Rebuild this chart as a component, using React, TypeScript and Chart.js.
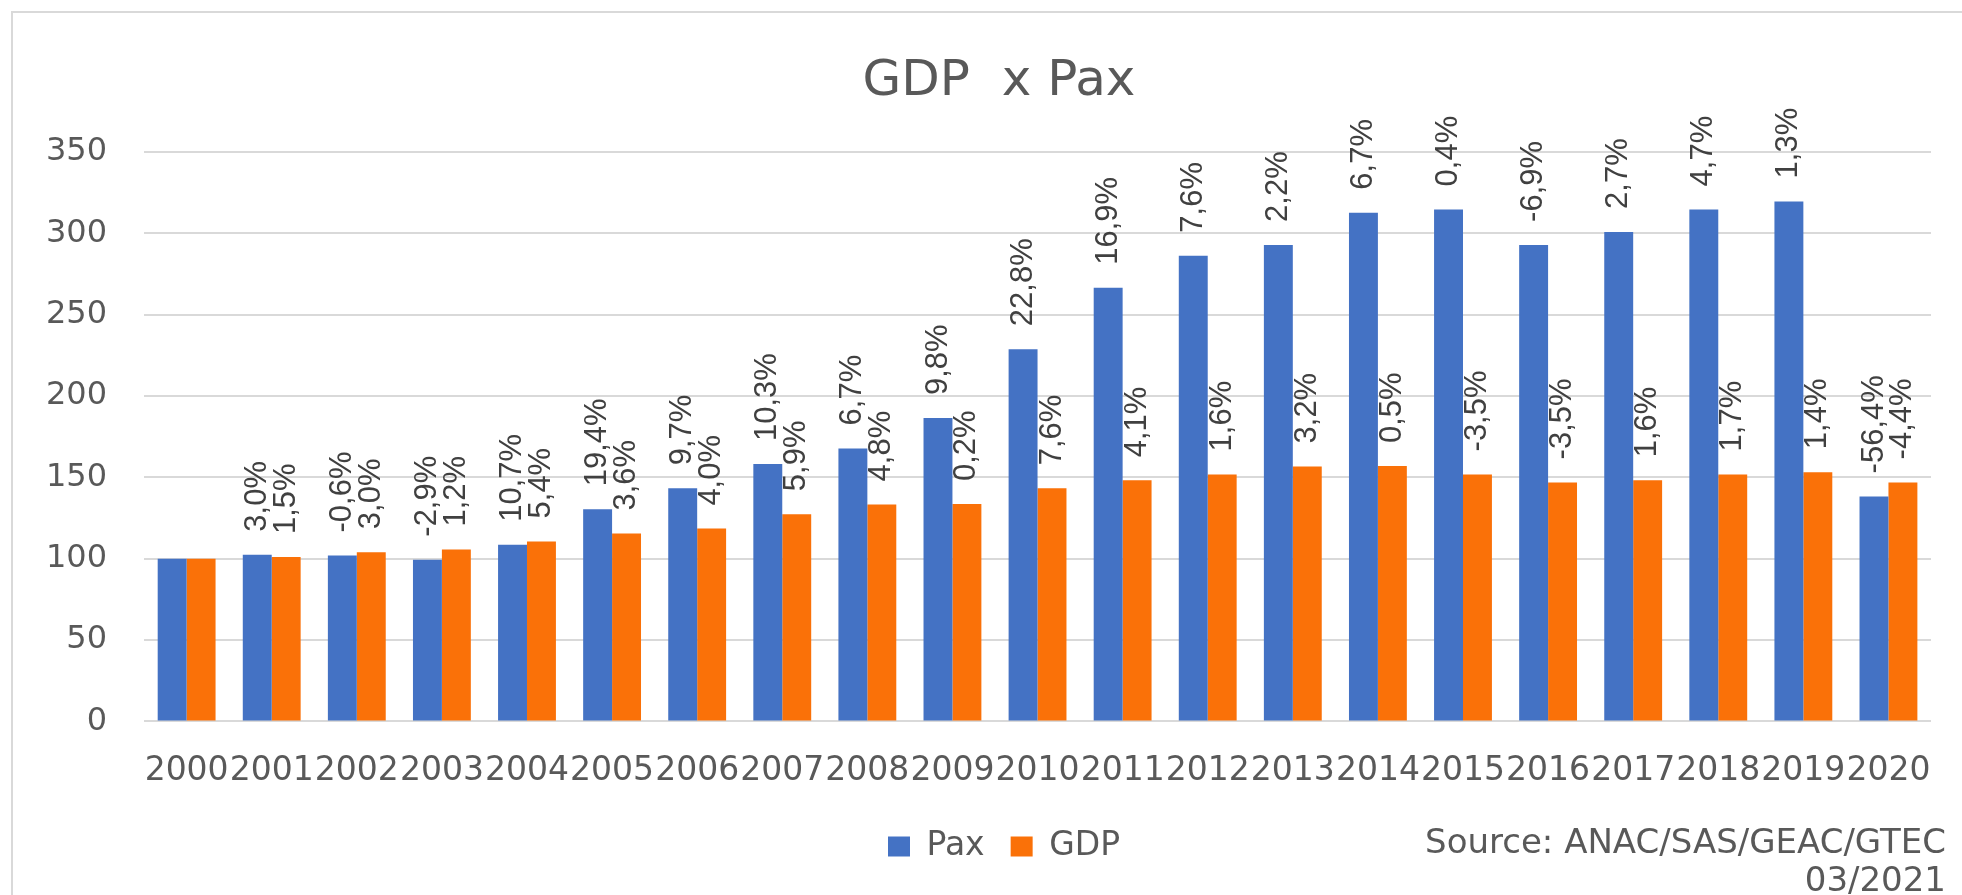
import React, { useEffect, useRef } from "react";
import { Chart, registerables } from "chart.js";

Chart.register(...registerables);

const years = ["2000","2001","2002","2003","2004","2005","2006","2007","2008","2009","2010","2011","2012","2013","2014","2015","2016","2017","2018","2019","2020"];
const paxValues = [100, 102.5, 102, 99.4, 108.6, 130.4, 143.3, 158.2, 167.8, 186.5, 228.8, 266.5, 286.3, 292.9, 312.7, 314.7, 292.9, 300.9, 314.7, 319.6, 138.3];
const gdpValues = [100, 101, 104, 105.6, 110.6, 115.5, 118.5, 127.4, 133.4, 133.6, 143.3, 148.2, 151.8, 156.7, 157, 151.8, 146.9, 148.2, 151.8, 153.2, 146.9];
const paxLabels = ["", "3,0%", "-0,6%", "-2,9%", "10,7%", "19,4%", "9,7%", "10,3%", "6,7%", "9,8%", "22,8%", "16,9%", "7,6%", "2,2%", "6,7%", "0,4%", "-6,9%", "2,7%", "4,7%", "1,3%", "-56,4%"];
const gdpLabels = ["", "1,5%", "3,0%", "1,2%", "5,4%", "3,6%", "4,0%", "5,9%", "4,8%", "0,2%", "7,6%", "4,1%", "1,6%", "3,2%", "0,5%", "-3,5%", "-3,5%", "1,6%", "1,7%", "1,4%", "-4,4%"];
const titleText = "GDP  x Pax";
const sourceLines = ["Source: ANAC/SAS/GEAC/GTEC", "03/2021"];

const labelPlugin = {
  id: "rotLabels",
  afterLayout(chart: any) {
    if (chart.titleBlock) {
      chart.titleBlock.left += 29;
      chart.titleBlock.right += 29;
    }
    if (chart.legend) {
      chart.legend.left += 34;
      chart.legend.right += 34;
    }
  },
  afterDatasetsDraw(chart: any) {
    const ctx = chart.ctx;
    const lists = [paxLabels, gdpLabels];
    ctx.save();
    ctx.font = "31px 'Liberation Sans'";
    ctx.fillStyle = "#404040";
    ctx.textAlign = "left";
    ctx.textBaseline = "middle";
    chart.data.datasets.forEach((ds: any, di: number) => {
      const meta = chart.getDatasetMeta(di);
      meta.data.forEach((el: any, i: number) => {
        const t = lists[di][i];
        if (!t) return;
        ctx.save();
        ctx.translate(el.x, el.y - 23);
        ctx.rotate(-Math.PI / 2);
        ctx.fillText(t, 0, 0);
        ctx.restore();
      });
    });
    ctx.restore();
  },
  afterDraw(chart: any) {
    const ctx = chart.ctx;
    ctx.save();
    ctx.strokeStyle = "#d9d9d9";
    ctx.lineWidth = 2;
    ctx.beginPath();
    ctx.moveTo(12, chart.height);
    ctx.lineTo(12, 12);
    ctx.lineTo(chart.width, 12);
    ctx.stroke();
    ctx.font = "34px 'DejaVu Sans'";
    ctx.fillStyle = "#595959";
    ctx.textAlign = "right";
    ctx.textBaseline = "alphabetic";
    ctx.fillText(sourceLines[0], chart.width - 16, 853);
    ctx.fillText(sourceLines[1], chart.width - 16, 891);
    ctx.restore();
  },
};

export default function App() {
  const ref = useRef<HTMLCanvasElement>(null);
  useEffect(() => {
    if (!ref.current) return;
    const chart = new Chart(ref.current, {
      type: "bar",
      data: {
        labels: years,
        datasets: [
          { label: "Pax", data: paxValues, backgroundColor: "#4472C4", categoryPercentage: 0.68, barPercentage: 1 },
          { label: "GDP", data: gdpValues, backgroundColor: "#FA7108", categoryPercentage: 0.68, barPercentage: 1 },
        ],
      },
      options: {
        responsive: false,
        animation: false,
        layout: { padding: { left: 9, right: 31, top: 52, bottom: 22 } },
        plugins: {
          title: {
            display: true,
            text: titleText,
            color: "#595959",
            font: { family: "'DejaVu Sans'", size: 50, weight: "normal" },
            padding: { top: 0, bottom: 40 },
          },
          legend: {
            position: "bottom",
            labels: {
              color: "#595959",
              font: { family: "'DejaVu Sans'", size: 33 },
              boxWidth: 22,
              boxHeight: 20,
              padding: 26,
            },
          },
          tooltip: { enabled: false },
        },
        scales: {
          x: {
            grid: { display: false },
            border: { display: false },
            afterFit: (scale: any) => { scale.height -= 9; },
            ticks: {
              color: "#595959",
              font: { family: "'DejaVu Sans'", size: 33 },
              maxRotation: 0,
              autoSkip: false,
              padding: 22,
            },
          },
          y: {
            min: 0,
            max: 350,
            grid: { color: "#d9d9d9", lineWidth: 2, drawTicks: false },
            border: { display: false },
            ticks: {
              stepSize: 50,
              color: "#595959",
              font: { family: "'DejaVu Sans'", size: 32 },
              padding: 37,
            },
          },
        },
      },
      plugins: [labelPlugin],
    });
    return () => chart.destroy();
  }, []);
  return (
    <div style={{ position: "fixed", left: 0, top: 0, width: 1962, height: 895, background: "#fff" }}>
      <canvas ref={ref} width={1962} height={895} style={{ width: 1962, height: 895, display: "block" }} />
    </div>
  );
}
